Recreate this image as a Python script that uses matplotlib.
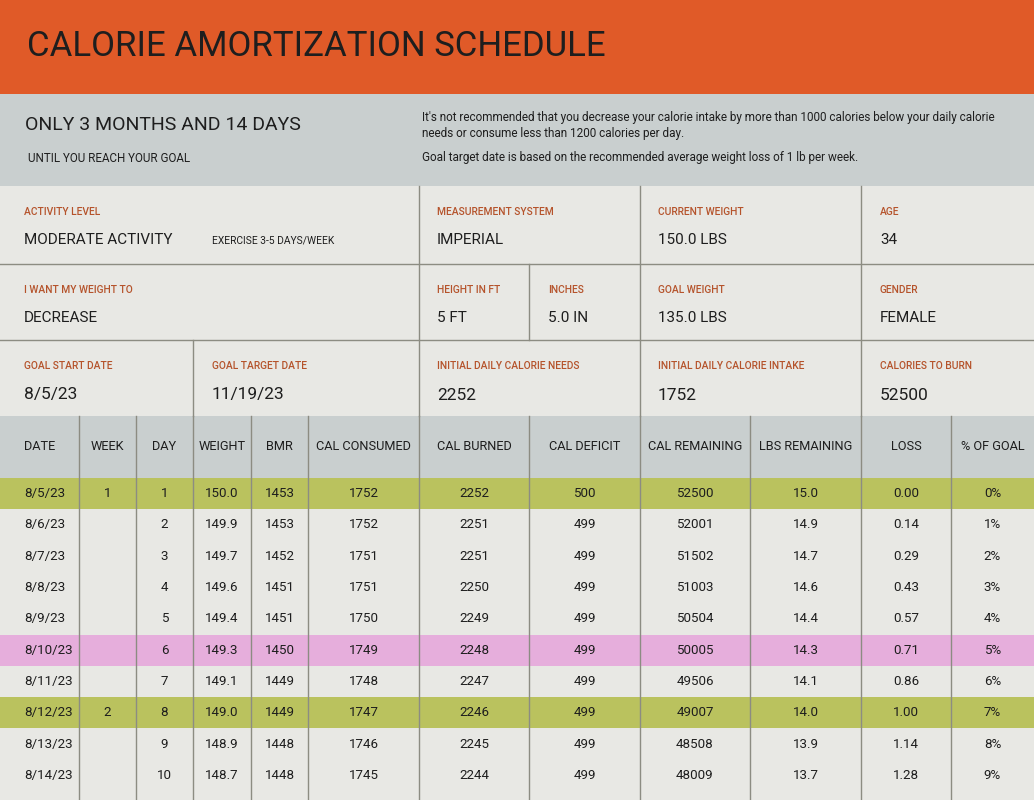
import matplotlib.pyplot as plt
from matplotlib.patches import Rectangle

plt.rcParams['font.family'] = ['Roboto', 'DejaVu Sans']

# ---- data ----
title = "CALORIE AMORTIZATION SCHEDULE"
headline = "ONLY 3 MONTHS AND 14 DAYS"
subline = "UNTIL YOU REACH YOUR GOAL"
note1 = ("It's not recommended that you decrease your calorie intake by more than 1000 calories below your daily calorie\n"
         "needs or consume less than 1200 calories per day.")
note2 = "Goal target date is based on the recommended average weight loss of 1 lb per week."

info_labels = ["ACTIVITY LEVEL", "MEASUREMENT SYSTEM", "CURRENT WEIGHT", "AGE",
               "I WANT MY WEIGHT TO", "HEIGHT IN FT", "INCHES", "GOAL WEIGHT", "GENDER",
               "GOAL START DATE", "GOAL TARGET DATE", "INITIAL DAILY CALORIE NEEDS",
               "INITIAL DAILY CALORIE INTAKE", "CALORIES TO BURN"]
info_values = ["MODERATE ACTIVITY", "IMPERIAL", "150.0 LBS", "34",
               "DECREASE", "5 FT", "5.0 IN", "135.0 LBS", "FEMALE",
               "8/5/23", "11/19/23", "2252", "1752", "52500"]
activity_note = "EXERCISE 3-5 DAYS/WEEK"

columns = ["DATE", "WEEK", "DAY", "WEIGHT", "BMR", "CAL CONSUMED", "CAL BURNED",
           "CAL DEFICIT", "CAL REMAINING", "LBS REMAINING", "LOSS", "% OF GOAL"]
dates = ["8/5/23", "8/6/23", "8/7/23", "8/8/23", "8/9/23", "8/10/23", "8/11/23",
         "8/12/23", "8/13/23", "8/14/23"]
weeks = ["1", "", "", "", "", "", "", "2", "", ""]
days = [1, 2, 3, 4, 5, 6, 7, 8, 9, 10]
weight = [150.0, 149.9, 149.7, 149.6, 149.4, 149.3, 149.1, 149.0, 148.9, 148.7]
bmr = [1453, 1453, 1452, 1451, 1451, 1450, 1449, 1449, 1448, 1448]
consumed = [1752, 1752, 1751, 1751, 1750, 1749, 1748, 1747, 1746, 1745]
burned = [2252, 2251, 2251, 2250, 2249, 2248, 2247, 2246, 2245, 2244]
deficit = [500, 499, 499, 499, 499, 499, 499, 499, 499, 499]
cal_remaining = [52500, 52001, 51502, 51003, 50504, 50005, 49506, 49007, 48508, 48009]
lbs_remaining = [15.0, 14.9, 14.7, 14.6, 14.4, 14.3, 14.1, 14.0, 13.9, 13.7]
loss = [0.00, 0.14, 0.29, 0.43, 0.57, 0.71, 0.86, 1.00, 1.14, 1.28]
pct_goal = [0, 1, 2, 3, 4, 5, 6, 7, 8, 9]
today_row = 5  # 8/10/23 highlighted

# ---- styling ----
ORANGE = '#E05A28'
GREY = '#C9CFCF'
PAPER = '#E8E8E4'
LINE = '#8C8C82'
LABEL = '#B5532B'
INK = '#1E1E1E'
GREEN = '#BAC25E'
PINK = '#E6AEDC'
CELL_FS = 9.6
HEAD_FS = 9.2

fig = plt.figure(figsize=(10.34, 8), dpi=100)
ax = fig.add_axes([0, 0, 1, 1])
ax.set_xlim(0, 1034)
ax.set_ylim(800, 0)
ax.axis('off')

def box(x0, y0, x1, y1, color):
    ax.add_patch(Rectangle((x0, y0), x1 - x0, y1 - y0, facecolor=color, edgecolor='none', zorder=0))

# header band
box(0, 0, 1034, 94, ORANGE)
ax.text(27, 46, title, fontsize=25, color=INK, va='center', ha='left')

# summary band
box(0, 94, 1034, 186, GREY)
ax.text(25, 125, headline, fontsize=14, color=INK, va='center')
ax.text(28, 158, subline, fontsize=8.4, color=INK, va='center')
ax.text(422, 126, note1, fontsize=8.5, color=INK, va='center', linespacing=1.3)
ax.text(422, 158, note2, fontsize=8.5, color=INK, va='center')

# info grid
box(0, 186, 1034, 416, PAPER)
r = [186, 264, 340, 416]
for y in r[1:3]:
    ax.plot([0, 1034], [y, y], color=LINE, lw=1, zorder=2)
for x in [419, 640, 861]:
    ax.plot([x, x], [r[0], r[3]], color=LINE, lw=1, zorder=2)
ax.plot([529, 529], [r[1], r[2]], color=LINE, lw=1, zorder=2)
ax.plot([193, 193], [r[2], r[3]], color=LINE, lw=1, zorder=2)

info_x = [24, 437, 658, 880, 24, 437, 548, 658, 880, 24, 212, 437, 658, 880]
info_row = [0, 0, 0, 0, 1, 1, 1, 1, 1, 2, 2, 2, 2, 2]
for lab, val, x, ri in zip(info_labels, info_values, info_x, info_row):
    y0 = r[ri]
    ax.text(x, y0 + 26, lab, fontsize=7.4, color=LABEL, va='center', fontweight='medium')
    vs = 12.5 if ri == 2 else 11
    ax.text(x, y0 + 54 + (1 if ri == 2 else 0), val, fontsize=vs, color=INK, va='center')
ax.text(212, r[0] + 55, activity_note, fontsize=7.4, color=INK, va='center')

# schedule table
col_edges = [0, 79, 136, 193, 251, 308, 419, 529, 640, 750, 861, 951, 1034]
head_top, head_bot = 416, 478
row_h = 31.3
box(0, head_top, 1034, head_bot, GREY)
box(0, head_bot, 1034, 800, PAPER)

rows = []
for i in range(len(dates)):
    rows.append([dates[i], weeks[i], str(days[i]), f"{weight[i]:.1f}", str(bmr[i]),
                 str(consumed[i]), str(burned[i]), str(deficit[i]), str(cal_remaining[i]),
                 f"{lbs_remaining[i]:.1f}", f"{loss[i]:.2f}", f"{pct_goal[i]}%"])

for i, row in enumerate(rows):
    y0 = head_bot + i * row_h
    if weeks[i]:
        box(0, y0, 1034, y0 + row_h, GREEN)
    elif i == today_row:
        box(0, y0, 1034, y0 + row_h, PINK)
    for j, txt in enumerate(row):
        if j == 0:
            ax.text(24, y0 + row_h / 2, txt, fontsize=CELL_FS, color=INK, va='center', ha='left')
        else:
            xc = (col_edges[j] + col_edges[j + 1]) / 2
            ax.text(xc, y0 + row_h / 2, txt, fontsize=CELL_FS, color=INK, va='center', ha='center')

for j, name in enumerate(columns):
    if j == 0:
        ax.text(24, (head_top + head_bot) / 2, name, fontsize=HEAD_FS, color=INK, va='center', ha='left')
    else:
        xc = (col_edges[j] + col_edges[j + 1]) / 2
        ax.text(xc, (head_top + head_bot) / 2, name, fontsize=HEAD_FS, color=INK, va='center', ha='center')

for x in col_edges[1:-1]:
    ax.plot([x, x], [head_top, 800], color=LINE, lw=1, zorder=2)

fig.savefig('out.png', dpi=100)
